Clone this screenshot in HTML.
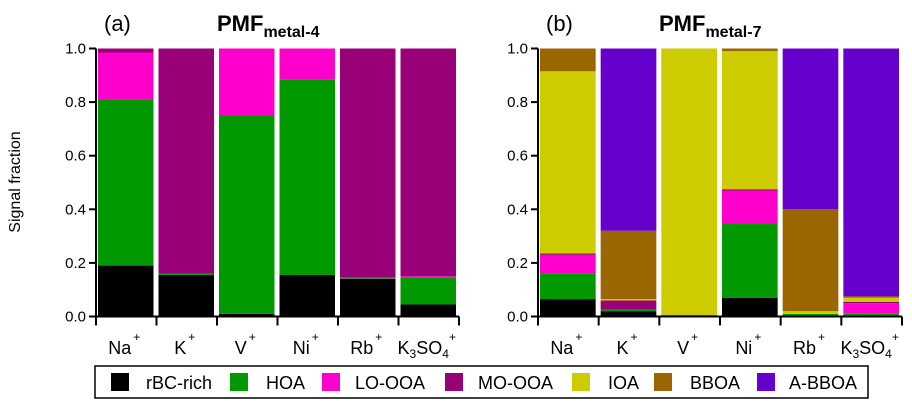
<!DOCTYPE html>
<html><head><meta charset="utf-8"><style>
body{margin:0;background:#fff;}
svg{display:block;font-family:"Liberation Sans",Arial,sans-serif;}
</style></head><body>
<svg id="c" width="912" height="410" viewBox="0 0 912 410"></svg>
<script>
const categories=["Na","K","V","Ni","Rb","K3SO4"];
const factors=["rBC-rich","HOA","LO-OOA","MO-OOA","IOA","BBOA","A-BBOA"];
const colors=["#000000","#009900","#ff00cc","#990077","#cccc00","#996600","#6600cc"];
// panel (a) PMF metal-4 fractions per category, order = factors
const rbcA=[0.19,0.155,0.01,0.155,0.14,0.045];
const hoaA=[0.62,0.005,0.74,0.73,0.003,0.10];
const looA=[0.175,0,0.25,0.115,0.002,0.005];
const mooA=[0.015,0.84,0,0,0.855,0.85];
// panel (b) PMF metal-7
const rbcB=[0.065,0.02,0.005,0.07,0.005,0.0];
const hoaB=[0.095,0.005,0,0.275,0.005,0.01];
const looB=[0.07,0,0,0.125,0,0.04];
const mooB=[0.005,0.035,0,0.005,0,0.005];
const ioaB=[0.68,0.005,0.995,0.515,0.01,0.015];
const bboaB=[0.085,0.255,0,0.01,0.38,0.005];
const abbB=[0,0.68,0,0,0.60,0.925];
const yTicks=[0,0.2,0.4,0.6,0.8,1.0];
const yTickLabels=["0.0","0.2","0.4","0.6","0.8","1.0"];

const NS="http://www.w3.org/2000/svg";
const svg=document.getElementById('c');
function el(t,a,p){const e=document.createElementNS(NS,t);for(const k in a)e.setAttribute(k,a[k]);(p||svg).appendChild(e);return e;}
const y0=316.5,y1=48.5;
function yS(v){return y0-(y0-y1)*v;}

function panel(x0,x1,series,label,sub,name){
  const g=el('g',{});
  
  
  const bw=(x1-x0)/categories.length;
  const xS=i=>x0+i*bw;
  categories.forEach((c,i)=>{
    let cum=0;
    series.forEach((s,k)=>{
      const v=s[i];if(v<=0)return;
      const r=el('rect',{x:xS(i)+2,y:yS(cum+v),width:bw-5,height:yS(cum)-yS(cum+v),fill:colors[k]},g);
      
      
      cum+=v;
    });
  });
  el('line',{x1:x0,y1:y1,x2:x0,y2:y0+1,stroke:'#000','stroke-width':2},g);
  el('line',{x1:x0,y1:y0,x2:x1,y2:y0,stroke:'#000','stroke-width':2},g);
  yTicks.forEach((t,j)=>{
    el('line',{x1:x0-7,y1:yS(t),x2:x0,y2:yS(t),stroke:'#000','stroke-width':2},g);
    const tx=el('text',{x:x0-10,y:yS(t)+5,'text-anchor':'end','font-size':15},g);
    tx.textContent=yTickLabels[j];
    
    
  });
  for(let i=0;i<=categories.length;i++){
    el('line',{x1:xS(i),y1:y0,x2:xS(i),y2:y0+9,stroke:'#000','stroke-width':2},g);
  }
  categories.forEach((c,i)=>{
    const t=el('text',{x:xS(i)+bw/2-2,y:354,'text-anchor':'middle','font-size':18},g);
    
    
    if(c==='K3SO4'){
      t.innerHTML='K<tspan font-size="12" dy="4">3</tspan><tspan dy="-4">SO</tspan><tspan font-size="12" dy="4">4</tspan><tspan font-size="12" dy="-17">+</tspan>';
    } else {
      t.innerHTML=c+'<tspan font-size="12" dy="-13" dx="2">+</tspan>';
    }
  });
  const pl=el('text',{x:x0+8,y:31,'font-size':22},g);pl.textContent=label;
  
  const ti=el('text',{x:x0+121,y:31,'font-size':22,'font-weight':'bold'},g);
  ti.innerHTML='PMF<tspan font-size="16" dy="6">'+sub+'</tspan>';
  
}
panel(96,459,[rbcA,hoaA,looA,mooA],'(a)','metal-4','panel-a');
panel(538,902,[rbcB,hoaB,looB,mooB,ioaB,bboaB,abbB],'(b)','metal-7','panel-b');

const yt=el('text',{x:20,y:182,'text-anchor':'middle','font-size':16,transform:'rotate(-90 20 182)'});
yt.textContent='Signal fraction';


const lg=el('g',{});

el('rect',{x:95,y:366,width:773,height:32,fill:'#fff',stroke:'#000','stroke-width':1.5},lg);
const lx=[111,230,322,445,572,654,757];
const tx=[146,266,355,478,608,690,789];
factors.forEach((f,k)=>{
  const e=el('g',{},lg);
  
  
  el('rect',{x:lx[k],y:373,width:18,height:18,fill:colors[k]},e);
  const t=el('text',{x:tx[k],y:389,'font-size':18},e);t.textContent=f;
});
</script>
</body></html>
